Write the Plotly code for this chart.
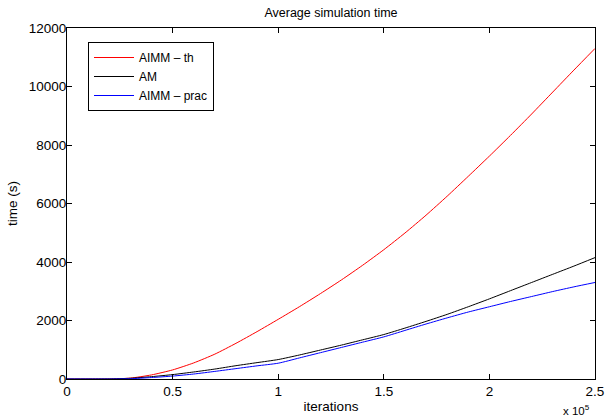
import plotly.graph_objects as go

iterations = [0, 10000, 20000, 30000, 40000, 50000, 60000, 70000, 80000, 90000,
              100000, 110000, 120000, 130000, 140000, 150000, 160000, 170000, 180000,
              190000, 200000, 210000, 220000, 230000, 240000, 250000]

aimm_th = [0, 0, 0, 30, 140, 310, 550, 850, 1220, 1620,
           2040, 2470, 2920, 3390, 3890, 4420, 4990, 5600, 6250,
           6930, 7620, 8330, 9060, 9810, 10560, 11300]

am = [0, 0, 3, 25, 80, 150, 240, 340, 455, 560,
      665, 820, 990, 1160, 1340, 1520, 1740, 1970, 2210,
      2470, 2740, 3020, 3300, 3580, 3860, 4150]

aimm_prac = [0, 0, 0, 10, 50, 100, 170, 260, 355, 450,
             540, 720, 900, 1080, 1260, 1440, 1660, 1880, 2090,
             2290, 2470, 2650, 2820, 2990, 3150, 3300]

x_tickvals = [0, 50000, 100000, 150000, 200000, 250000]
x_ticktext = ["0", "0.5", "1", "1.5", "2", "2.5"]
y_tickvals = [0, 2000, 4000, 6000, 8000, 10000, 12000]
y_ticktext = ["0", "2000", "4000", "6000", "8000", "10000", "12000"]

font = "Liberation Sans, Arial, sans-serif"

fig = go.Figure()
fig.add_trace(go.Scatter(x=iterations, y=aimm_th, mode="lines", name="AIMM – th",
                         line=dict(color="#ff0000", width=1, shape="spline", smoothing=0.6)))
fig.add_trace(go.Scatter(x=iterations, y=am, mode="lines", name="AM",
                         line=dict(color="#000000", width=1, shape="spline", smoothing=0.6)))
fig.add_trace(go.Scatter(x=iterations, y=aimm_prac, mode="lines", name="AIMM – prac",
                         line=dict(color="#0000ff", width=1, shape="spline", smoothing=0.6)))

axis_common = dict(showline=True, linecolor="black", linewidth=1, mirror="ticks",
                   ticks="inside", ticklen=5, tickcolor="black", showgrid=False,
                   zeroline=False, automargin=False,
                   tickfont=dict(family=font, size=13.5, color="black"))

fig.update_layout(
    width=606, height=418,
    margin=dict(l=67, r=11, t=28, b=39),
    paper_bgcolor="white", plot_bgcolor="white",
    font=dict(family=font, size=12, color="black"),
    title=dict(text="Average simulation time", x=(67 + 595) / 2 / 606, xanchor="center",
               y=1 - 13 / 418, yanchor="middle", font=dict(family=font, size=12.5, color="black")),
    xaxis=dict(range=[0, 250000], tickvals=x_tickvals, ticktext=x_ticktext,
               ticklabelstandoff=0,
               title=dict(text="iterations", standoff=3, font=dict(family=font, size=13.5)),
               **axis_common),
    yaxis=dict(range=[0, 12000], tickvals=y_tickvals, ticktext=y_ticktext,
               ticklabelstandoff=-3,
               title=dict(text="time (s)", standoff=8, font=dict(family=font, size=13.5)),
               **axis_common),
    legend=dict(x=(88 - 67) / 528, y=(379 - 42) / 351, xanchor="left", yanchor="top",
                bordercolor="black", borderwidth=1, bgcolor="white",
                font=dict(family=font, size=12, color="black"),
                tracegroupgap=0, itemwidth=40),
    showlegend=True,
)

fig.add_annotation(text="x 10<sup>5</sup>", xref="paper", yref="paper",
                   x=(592 - 67) / 528, y=(379 - 419) / 351, xanchor="right", yanchor="bottom",
                   showarrow=False,
                   font=dict(family=font, size=11.5, color="black"))

fig.write_html("out.html")
